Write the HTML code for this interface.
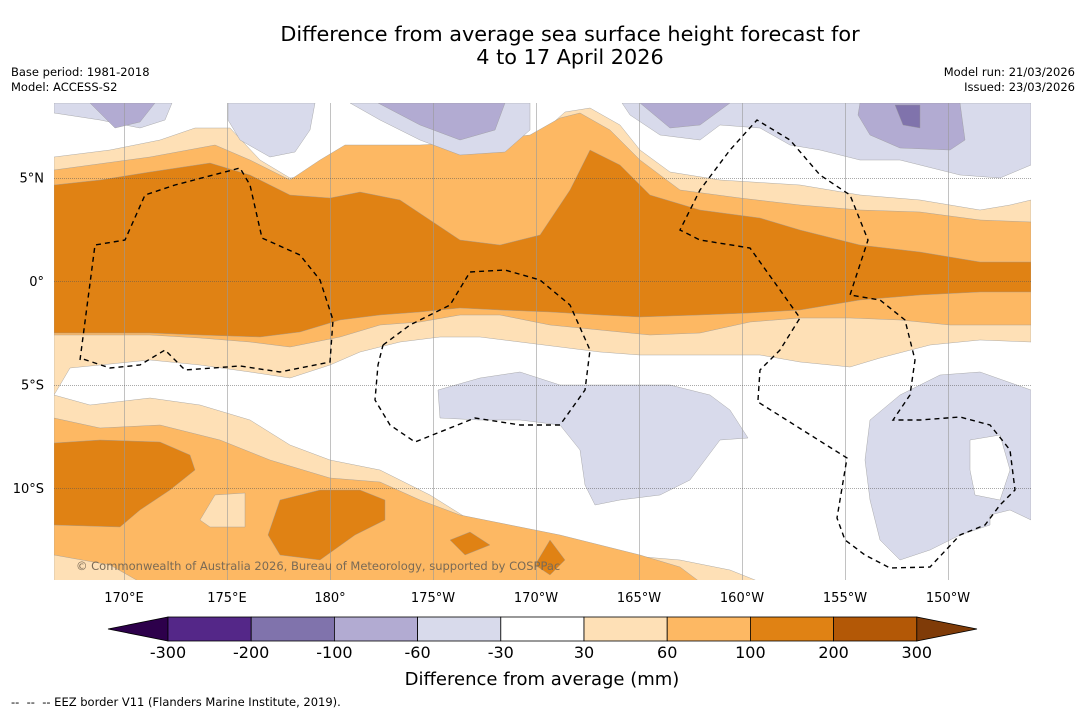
<!DOCTYPE html>
<html><head><meta charset="utf-8">
<style>
html,body{margin:0;padding:0;background:#fff;}
body{width:1085px;height:713px;position:relative;overflow:hidden;font-family:"DejaVu Sans","Liberation Sans",sans-serif;}
svg{position:absolute;left:0;top:0;font-family:"DejaVu Sans","Liberation Sans",sans-serif;}
</style></head>
<body>
<svg width="1085" height="713">
  <defs><clipPath id="mapclip"><rect x="54" y="103" width="977" height="477"/></clipPath></defs>
  <text x="570" y="41" text-anchor="middle" font-size="20.8" fill="#000">Difference from average sea surface height forecast for</text>
  <text x="570" y="64" text-anchor="middle" font-size="20.8" fill="#000">4 to 17 April 2026</text>
  <text x="11" y="76" font-size="11.5">Base period: 1981-2018</text>
  <text x="11" y="91" font-size="11.5">Model: ACCESS-S2</text>
  <text x="1075" y="76" font-size="11.5" text-anchor="end">Model run: 21/03/2026</text>
  <text x="1075" y="91" font-size="11.5" text-anchor="end">Issued: 23/03/2026</text>

  <g id="map" clip-path="url(#mapclip)">
    <rect x="54" y="103" width="977" height="477" fill="#fff"/>
    <g id="contours" stroke="none"></g>
    <g id="grid"></g>
    <g id="eez" fill="none" stroke="#000" stroke-width="1.4" stroke-dasharray="5,4"></g>
    <text x="76" y="570" font-size="11.5" fill="#7a6a55">© Commonwealth of Australia 2026, Bureau of Meteorology, supported by COSPPac</text>
  </g>
  <g id="axes"></g>
  <g id="colorbar"></g>
  <text x="542" y="685" text-anchor="middle" font-size="18">Difference from average (mm)</text>
  <text x="11" y="706" font-size="11.5" xml:space="preserve">--  --  -- EEZ border V11 (Flanders Marine Institute, 2019).</text>
</svg>
<script>
const levels = [-300,-200,-100,-60,-30,30,60,100,200,300];
const levelColors = ['#542788','#8073ac','#b2abd2','#d8daeb','#ffffff','#fee0b6','#fdb863','#e08214','#b35806'];
const lonTicks = [170,175,180,-175,-170,-165,-160,-155,-150];
const lonLabels = ['170°E','175°E','180°','175°W','170°W','165°W','160°W','155°W','150°W'];
const latTicks = [5,0,-5,-10];
const latLabels = ['5°N','0°','5°S','10°S'];

const NS='http://www.w3.org/2000/svg';
function mk(tag,attrs,parent){const e=document.createElementNS(NS,tag);for(const k in attrs)e.setAttribute(k,attrs[k]);parent.appendChild(e);return e;}
function xLon(l){const e=l<0?360+l:l;return 124+(e-170)*20.6;}
function yLat(l){return 281-l*20.7;}
function pts(a){return a.map(p=>p.join(',')).join(' ');}

const C=document.getElementById('contours');
const shapes=[
 ['light-orange-north',5,[[54,157],[110,150],[160,140],[195,128],[230,128],[260,160],[290,178],[320,175],[350,160],[380,155],[420,160],[470,158],[520,152],[545,130],[565,112],[590,108],[620,125],[640,150],[670,172],[720,180],[800,185],[860,195],[920,200],[980,210],[1010,205],[1031,200],[1031,342],[980,340],[930,345],[880,358],[850,367],[800,362],[760,355],[700,355],[640,355],[600,352],[560,347],[520,342],[480,337],[440,337],[400,342],[360,352],[330,365],[290,378],[250,372],[200,365],[150,360],[100,365],[70,368],[60,385],[54,395]]],
 ['mid-orange-north',6,[[54,170],[150,157],[215,145],[250,160],[290,180],[320,160],[345,145],[420,145],[470,142],[530,135],[560,118],[580,113],[610,130],[640,160],[680,190],[740,198],[800,205],[860,210],[920,212],[980,220],[1031,222],[1031,325],[950,325],[900,320],[850,318],[800,318],[750,322],[700,333],[650,335],[600,330],[550,325],[500,315],[460,315],[420,322],[380,325],[340,337],[290,347],[250,342],[200,338],[150,335],[54,335]]],
 ['dark-orange-north',7,[[54,185],[100,180],[150,172],[210,163],[250,175],[290,195],[330,198],[360,192],[400,200],[430,220],[460,240],[500,245],[540,235],[570,190],[590,150],[620,165],[650,195],[700,210],[760,218],[800,230],[860,245],[920,252],[980,262],[1031,262],[1031,292],[980,292],[920,295],[860,300],[800,310],[750,313],[700,315],[640,317],[600,315],[550,312],[500,310],[460,308],[420,312],[380,315],[340,320],[300,332],[260,337],[200,335],[150,333],[54,333]]],
 ['light-orange-south',5,[[54,395],[90,405],[150,398],[200,405],[250,420],[290,445],[330,460],[380,470],[430,495],[470,520],[520,535],[570,550],[620,555],[680,560],[730,570],[760,582],[54,582]]],
 ['mid-orange-south',6,[[54,418],[100,428],[160,425],[220,440],[270,460],[330,478],[380,482],[420,500],[460,515],[520,527],[560,535],[600,545],[640,555],[680,567],[700,582],[140,582],[110,565],[54,555]]],
 ['dark-orange-west',7,[[54,443],[100,440],[160,442],[190,455],[195,470],[170,490],[140,510],[120,527],[54,525]]],
 ['dark-orange-blob',7,[[280,500],[320,490],[360,490],[385,500],[385,520],[355,535],[320,560],[280,555],[268,535]]],
 ['dark-orange-small1',7,[[450,540],[470,532],[490,545],[465,555]]],
 ['dark-orange-small2',7,[[535,565],[550,540],[565,560],[550,575]]],
 ['light-orange-blob',5,[[200,520],[215,495],[245,493],[245,527],[210,527]]],
 ['lavender-topleft',3,[[54,103],[172,103],[165,120],[140,128],[100,120],[54,113]]],
 ['purple-topleft',2,[[90,103],[155,103],[140,122],[115,128]]],
 ['lavender-top2',3,[[228,103],[315,103],[310,130],[295,152],[270,157],[240,140],[228,120]]],
 ['lavender-top3',3,[[350,103],[530,103],[530,130],[505,152],[460,155],[420,140],[380,120]]],
 ['purple-top3',2,[[378,103],[505,103],[495,130],[460,140],[420,125]]],
 ['lavender-topright',3,[[622,103],[1031,103],[1031,165],[1000,178],[960,175],[900,160],[860,160],[820,150],[790,145],[760,128],[720,125],[700,140],[660,135],[630,115]]],
 ['purple-topright1',2,[[640,103],[730,103],[700,125],[670,128]]],
 ['purple-topright2',2,[[860,103],[960,103],[965,140],[950,150],[900,148],[870,135],[858,115]]],
 ['dark-purple-topright',1,[[895,105],[920,105],[920,128],[903,125]]],
 ['lavender-south-mid',3,[[438,390],[480,378],[520,372],[560,385],[610,385],[670,385],[710,395],[730,410],[748,438],[720,440],[705,460],[690,480],[660,495],[620,500],[595,505],[585,485],[580,450],[560,425],[520,420],[480,420],[440,418]]],
 ['lavender-south-east',3,[[870,420],[900,395],[940,375],[980,372],[1031,390],[1031,520],[1010,510],[990,515],[990,525],[960,535],[930,550],[900,560],[880,540],[870,500],[865,460]]],
 ['white-hole-east',4,[[970,440],[1000,435],[1010,470],[1000,500],[975,495],[970,470]]]
];
shapes.forEach(s=>{
  const p=mk('polygon',{points:pts(s[2]),fill:levelColors[s[1]],stroke:'#999',"stroke-width":'0.4'},C);
  
  
});

const G=document.getElementById('grid');
lonTicks.forEach(l=>{const x=Math.round(xLon(l))+0.5;mk('line',{x1:x,y1:103,x2:x,y2:580,stroke:'#999','stroke-width':0.6},G);});
latTicks.forEach(l=>{const y=Math.round(yLat(l))+0.5;mk('line',{x1:54,y1:y,x2:1031,y2:y,stroke:'#555','stroke-width':0.6,'stroke-dasharray':'1,1'},G);});

const E=document.getElementById('eez');
const eez=[
 ['eez-west',[[80,360],[95,245],[125,240],[145,195],[175,185],[240,168],[250,185],[262,238],[300,255],[320,280],[333,320],[330,362],[280,372],[240,366],[185,370],[165,350],[140,365],[110,368],[80,358]]],
 ['eez-central',[[383,345],[410,325],[450,305],[470,272],[505,270],[540,280],[570,305],[590,350],[585,390],[560,425],[520,425],[475,418],[415,442],[390,425],[375,400],[378,365],[383,345]]],
 ['eez-east',[[758,400],[760,370],[780,350],[800,318],[780,290],[750,248],[700,240],[680,230],[700,190],[730,150],[757,120],[790,140],[820,175],[850,195],[868,240],[850,295],[880,300],[905,320],[915,360],[910,395],[893,420],[920,420],[960,417],[990,425],[1010,450],[1015,490],[1000,505],[985,525],[960,535],[930,567],[890,568],[865,555],[845,540],[837,518],[847,458],[758,402]]]
];
eez.forEach(s=>{const p=mk('polyline',{points:pts(s[1])},E);
  
  });

const A=document.getElementById('axes');
lonTicks.forEach((l,i)=>{const t=mk('text',{x:xLon(l),y:602,'text-anchor':'middle','font-size':13},A);t.textContent=lonLabels[i];
  
  });
latTicks.forEach((l,i)=>{const t=mk('text',{x:44,y:yLat(l)+5,'text-anchor':'end','font-size':13},A);t.textContent=latLabels[i];
  
  });

const CB=document.getElementById('colorbar');
const cbX0=168,cbW=83.2,cbY=617,cbH=24;
const lt=mk('polygon',{points:`108,629 ${cbX0},${cbY} ${cbX0},${cbY+cbH}`,fill:'#2d004b',stroke:'#000','stroke-width':0.8},CB);


levelColors.forEach((c,i)=>{const r=mk('rect',{x:cbX0+i*cbW,y:cbY,width:cbW,height:cbH,fill:c,stroke:'#000','stroke-width':0.8},CB);
  
  });
const rx=cbX0+levelColors.length*cbW;
const rt=mk('polygon',{points:`${rx},${cbY} ${rx},${cbY+cbH} 977,629`,fill:'#7f3b08',stroke:'#000','stroke-width':0.8},CB);


levels.forEach((v,i)=>{const t=mk('text',{x:cbX0+i*cbW,y:658,'text-anchor':'middle','font-size':16},CB);t.textContent=v;
  
  });
</script>
</body></html>
